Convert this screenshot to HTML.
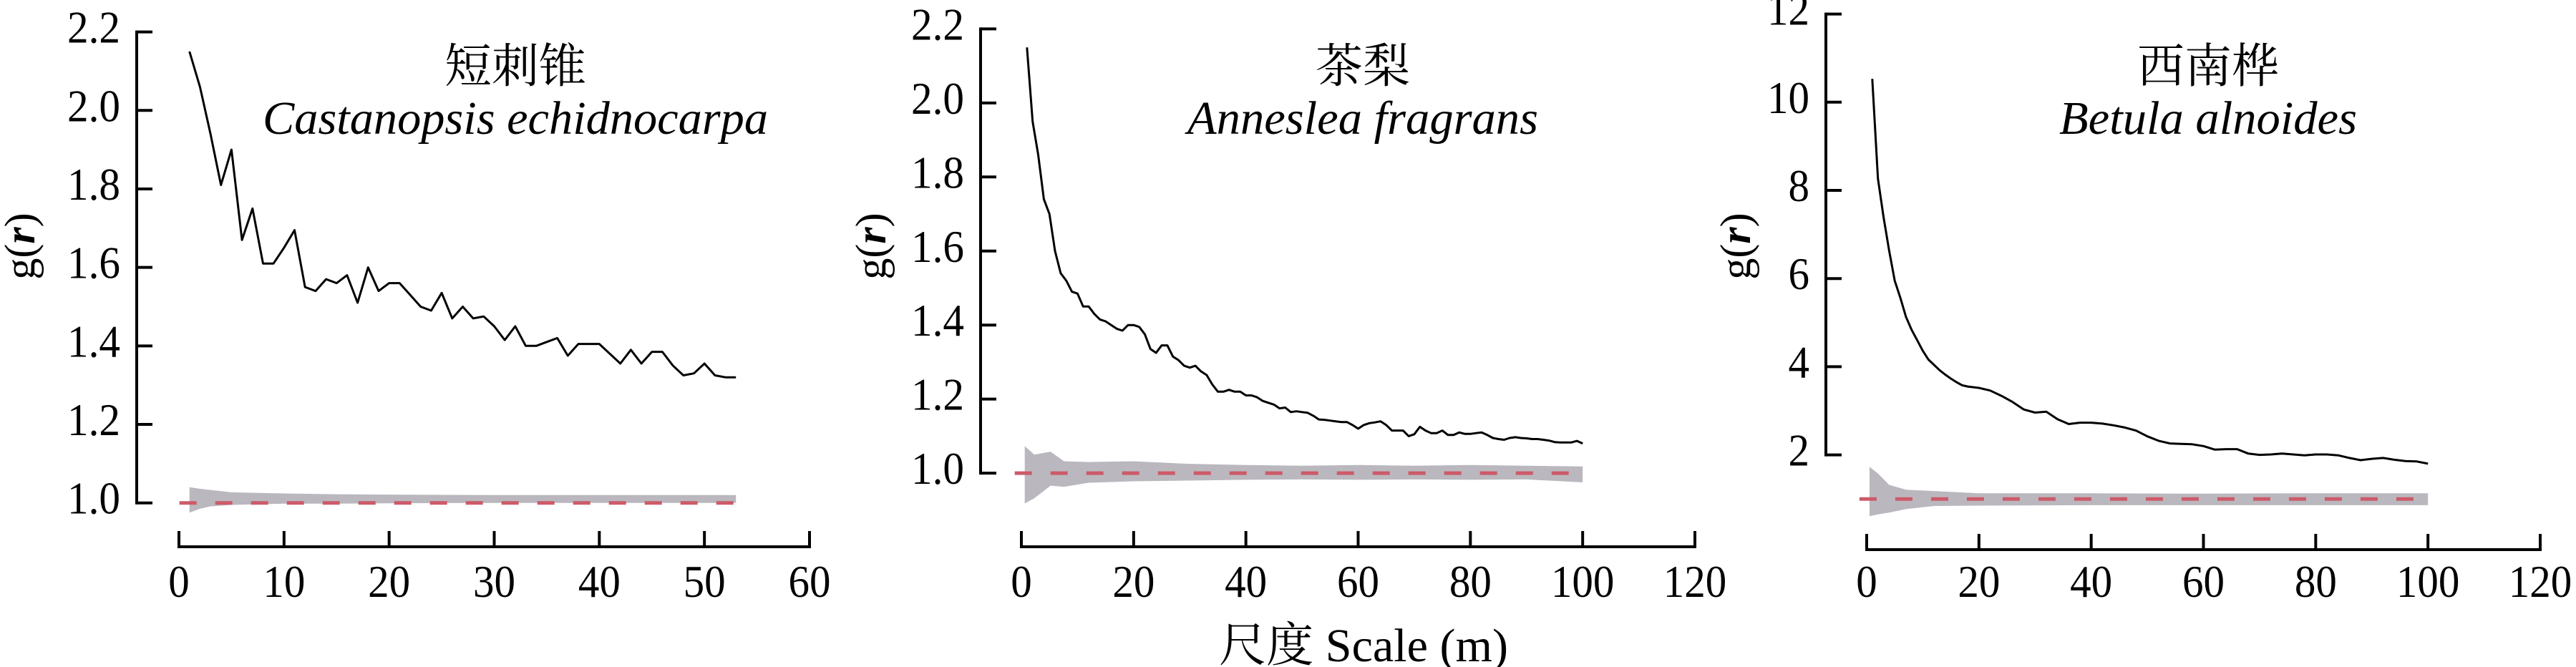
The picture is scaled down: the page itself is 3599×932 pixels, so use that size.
<!DOCTYPE html>
<html><head><meta charset="utf-8"><style>
html,body{margin:0;padding:0;background:#fff;}
svg{display:block;}
text{font-family:"Liberation Serif","Noto Serif CJK SC","Noto Sans CJK SC",serif;fill:#000;}
</style></head><body>
<svg id="fig" width="3599" height="932" viewBox="0 0 3599 932" xmlns="http://www.w3.org/2000/svg"></svg>
<script>
// Panel 1: 短刺锥 Castanopsis echidnocarpa
const p1X = [1,2,3,4,5,6,7,8,9,10,11,12,13,14,15,16,17,18,19,20,21,22,23,24,25,26,27,28,29,30,31,32,33,34,35,36,37,38,39,40,41,42,43,44,45,46,47,48,49,50,51,52,53];
const p1Y = [2.15,2.06,1.94,1.81,1.90,1.67,1.75,1.61,1.61,1.65,1.695,1.55,1.54,1.57,1.56,1.58,1.51,1.60,1.54,1.56,1.56,1.53,1.50,1.49,1.535,1.47,1.50,1.47,1.475,1.45,1.415,1.45,1.40,1.40,1.41,1.42,1.375,1.405,1.405,1.405,1.38,1.355,1.39,1.355,1.385,1.385,1.35,1.325,1.33,1.355,1.325,1.32,1.32];
const p1EnvX = [1,2,3,5,10,15,20,30,40,53];
const p1Upper = [1.04,1.036,1.033,1.027,1.024,1.022,1.021,1.02,1.02,1.02];
const p1Lower = [0.975,0.985,0.991,0.995,0.998,0.998,0.999,1.0,1.0,1.0];
// Panel 2: 茶梨 Anneslea fragrans
const p2X = [1,2,3,4,5,6,7,8,9,10,11,12,13,14,15,16,17,18,19,20,21,22,23,24,25,26,27,28,29,30,31,32,33,34,35,36,37,38,39,40,41,42,43,44,45,46,47,48,49,50,51,52,53,54,55,56,57,58,59,60,61,62,63,64,65,66,67,68,69,70,71,72,73,74,75,76,77,78,79,80,81,82,83,84,85,86,87,88,89,90,91,92,93,94,95,96,97,98,99,100];
const p2Y = [2.15,1.95,1.86,1.74,1.70,1.60,1.54,1.52,1.49,1.485,1.45,1.45,1.43,1.415,1.41,1.40,1.39,1.385,1.40,1.40,1.395,1.375,1.335,1.325,1.345,1.345,1.315,1.305,1.29,1.285,1.29,1.275,1.265,1.24,1.22,1.22,1.225,1.22,1.22,1.21,1.21,1.205,1.195,1.19,1.185,1.175,1.177,1.165,1.167,1.165,1.163,1.155,1.145,1.144,1.142,1.14,1.138,1.138,1.13,1.12,1.13,1.135,1.137,1.14,1.13,1.115,1.115,1.115,1.10,1.105,1.125,1.115,1.108,1.108,1.115,1.103,1.103,1.11,1.106,1.106,1.108,1.11,1.103,1.095,1.092,1.09,1.095,1.097,1.095,1.094,1.092,1.092,1.09,1.088,1.084,1.083,1.083,1.083,1.087,1.08];
const p2EnvX = [0.6,2.3,5.2,7.6,12,20,30,40,50,60,70,80,90,100];
const p2Upper = [1.073,1.05,1.058,1.032,1.03,1.032,1.025,1.022,1.02,1.022,1.02,1.022,1.02,1.018];
const p2Lower = [0.918,0.932,0.966,0.963,0.974,0.978,0.98,0.982,0.983,0.982,0.983,0.982,0.983,0.975];
// Panel 3: 西南桦 Betula alnoides
const p3X = [1,2,3,4,5,6,7,8,9,10,11,12,13,14,15,16,17,18,20,22,24,26,28,30,32,34,36,38,40,42,44,46,48,50,52,54,56,58,60,62,64,66,68,70,72,74,76,78,80,82,84,86,88,90,92,94,96,98,100];
const p3Y = [10.53,8.27,7.40,6.63,5.95,5.56,5.13,4.84,4.60,4.36,4.16,4.04,3.92,3.82,3.73,3.65,3.58,3.55,3.52,3.46,3.34,3.20,3.03,2.96,2.98,2.81,2.70,2.73,2.73,2.71,2.67,2.62,2.55,2.42,2.32,2.26,2.25,2.24,2.20,2.12,2.13,2.13,2.03,2.00,2.01,2.03,2.01,1.99,2.01,2.01,1.99,1.93,1.88,1.91,1.93,1.89,1.86,1.85,1.80];
const p3EnvX = [0.5,2,4,7,12,20,40,60,80,100];
const p3Upper = [1.73,1.58,1.32,1.21,1.18,1.13,1.13,1.12,1.13,1.13];
const p3Lower = [0.61,0.65,0.69,0.77,0.84,0.85,0.86,0.86,0.86,0.86];

const xTicks1 = [0,10,20,30,40,50,60];
const xTicks23 = [0,20,40,60,80,100,120];
const yTicks12 = [1.0,1.2,1.4,1.6,1.8,2.0,2.2];
const yTicks3 = [2,4,6,8,10,12];

const NS = "http://www.w3.org/2000/svg";
const svg = document.getElementById('fig');
function mk(tag, attrs, parent){
  const e = document.createElementNS(NS, tag);
  for (const k in attrs) e.setAttribute(k, attrs[k]);
  (parent||svg).appendChild(e);
  return e;
}
function numW(s){ let w=0; for (const c of s) w += (c==='.')?15:29.5; return w; }

const panels = [
  {id:'p1', xs:p1X, ys:p1Y, ex:p1EnvX, eu:p1Upper, el:p1Lower, xt:xTicks1, yt:yTicks12, fmt:v=>v.toFixed(1),
   axX:191, x0:250, x1:1131, xmax:60, yAt:[1.0,702.7,2.2,44.6], xAxisY:764, ref:1.0,
   cn:'短刺锥', lat:'Castanopsis echidnocarpa', latW:706, cx:720, ylx:34},
  {id:'p2', xs:p2X, ys:p2Y, ex:p2EnvX, eu:p2Upper, el:p2Lower, xt:xTicks23, yt:yTicks12, fmt:v=>v.toFixed(1),
   axX:1370, x0:1427, x1:2368, xmax:120, yAt:[1.0,661.1,2.2,40.4], xAxisY:764, ref:1.0,
   cn:'茶梨', lat:'Anneslea fragrans', latW:490, cx:1904, ylx:1223},
  {id:'p3', xs:p3X, ys:p3Y, ex:p3EnvX, eu:p3Upper, el:p3Lower, xt:xTicks23, yt:yTicks3, fmt:v=>String(v),
   axX:2551, x0:2608, x1:3549, xmax:120, yAt:[2,635.6,12,19.6], xAxisY:768, ref:1.0,
   cn:'西南桦', lat:'Betula alnoides', latW:416, cx:3085, ylx:2431}
];

panels.forEach(p=>{
  const g = mk('g', {});
  
  
  const sx = v => p.x0 + (v/p.xmax)*(p.x1-p.x0);
  const sy = v => p.yAt[1] + (v-p.yAt[0])/(p.yAt[2]-p.yAt[0])*(p.yAt[3]-p.yAt[1]);
  // envelope
  let pts = p.ex.map((x,i)=>sx(x)+','+sy(p.eu[i]));
  pts = pts.concat(p.ex.slice().reverse().map((x,i)=>sx(x)+','+sy(p.el[p.el.length-1-i])));
  const env = mk('polygon', {points:pts.join(' '), fill:'#bab8be', stroke:'none'}, g);
  
  
  // reference dashed line
  const rl = mk('line', {x1:sx(p.ex[0])-14, x2:sx(p.ex[p.ex.length-1]), y1:sy(p.ref), y2:sy(p.ref), stroke:'#cd5a6a', 'stroke-width':5, 'stroke-dasharray':'24 26'}, g);
  
  
  // g(r) line
  const d = p.xs.map((x,i)=>(i?'L':'M')+sx(x).toFixed(1)+' '+sy(p.ys[i]).toFixed(1)).join(' ');
  const ln = mk('path', {d:d, fill:'none', stroke:'#000', 'stroke-width':3, 'stroke-linejoin':'round'}, g);
  
  
  // y axis
  const yTop = sy(p.yt[p.yt.length-1]), yBot = sy(p.yt[0]);
  const ya = mk('line', {x1:p.axX, x2:p.axX, y1:yTop-2, y2:yBot+2, stroke:'#000','stroke-width':4}, g);
  
  
  p.yt.forEach(v=>{
    const y = sy(v);
    const t = mk('line', {x1:p.axX, x2:p.axX+22, y1:y, y2:y, stroke:'#000','stroke-width':4}, g);
    
    
    const s = p.fmt(v);
    const tx = mk('text', {x:p.axX-23, y:y+15, 'font-size':64, 'text-anchor':'end', textLength:numW(s), lengthAdjust:'spacingAndGlyphs'}, g);
    tx.textContent = s;
    
    
  });
  // x axis
  const xa = mk('line', {x1:sx(p.xt[0])-2, x2:sx(p.xt[p.xt.length-1])+2, y1:p.xAxisY, y2:p.xAxisY, stroke:'#000','stroke-width':4}, g);
  
  
  p.xt.forEach(v=>{
    const x = sx(v);
    const t = mk('line', {x1:x, x2:x, y1:p.xAxisY-22, y2:p.xAxisY, stroke:'#000','stroke-width':4}, g);
    
    
    const s = String(v);
    const tx = mk('text', {x:x, y:834, 'font-size':64, 'text-anchor':'middle', textLength:numW(s), lengthAdjust:'spacingAndGlyphs'}, g);
    tx.textContent = s;
    
    
  });
  // titles
  const t1 = mk('text', {x:p.cx, y:115, 'font-size':66, 'text-anchor':'middle'}, g);
  t1.textContent = p.cn;
  
  
  const t2 = mk('text', {x:p.cx, y:187, 'font-size':66, 'font-style':'italic', 'text-anchor':'middle', textLength:p.latW, lengthAdjust:'spacingAndGlyphs'}, g);
  t2.textContent = p.lat;
  
  
  // y label
  const yl = mk('text', {transform:'translate('+(p.ylx+14)+',344) rotate(-90)', 'font-size':60, 'text-anchor':'middle'}, g);
  
  
  const a = mk('tspan', {}, yl); a.textContent = 'g(';
  const b = mk('tspan', {'font-style':'italic','font-weight':'bold'}, yl); b.textContent = 'r';
  const c = mk('tspan', {}, yl); c.textContent = ')';
});
const xl = mk('text', {x:1905, y:924, 'font-size':66, 'text-anchor':'middle', textLength:404, lengthAdjust:'spacingAndGlyphs'});
xl.textContent = '尺度 Scale (m)';


</script>
</body></html>
